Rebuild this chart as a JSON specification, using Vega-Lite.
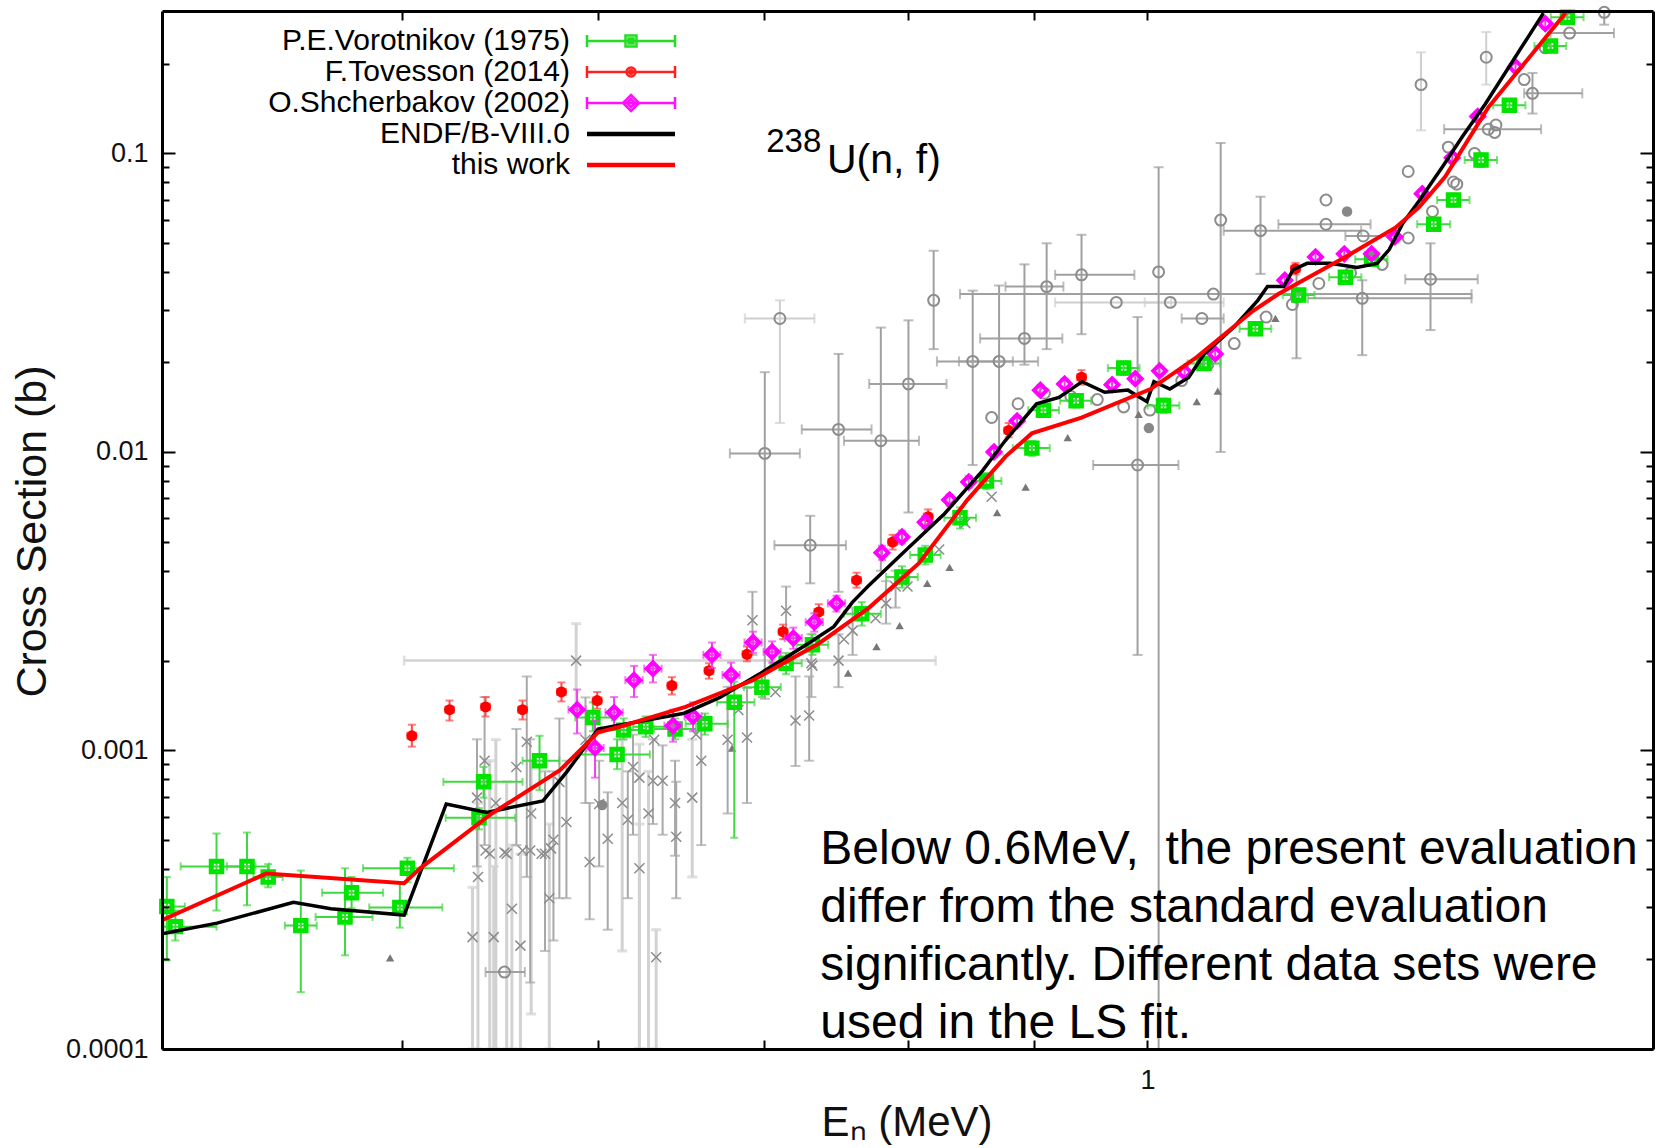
{
  "$schema": "https://vega.github.io/schema/vega-lite/v6.json",
  "width": 1491,
  "height": 1038,
  "autosize": {"type": "none"},
  "padding": {"left": 162, "top": 11, "right": 3, "bottom": 99},
  "background": "white",
  "config": {"view": {"stroke": null}, "font": "Liberation Sans", "axis": {"grid": false}},
  "resolve": {"axis": {"x": "independent", "y": "independent"}},
  "datasets": {
    "vorotnikov": [
      {"E": 0.4018, "s": 0.000300, "Elo": 0.4, "Ehi": 0.4086, "slo": 0.000198, "shi": 0.000377},
      {"E": 0.405, "s": 0.000257, "Elo": 0.4006, "Ehi": 0.4208, "slo": 0.000231, "shi": 0.000291},
      {"E": 0.4208, "s": 0.000409, "Elo": 0.407, "Ehi": 0.4363, "slo": 0.000291, "shi": 0.000527},
      {"E": 0.4329, "s": 0.000409, "Elo": 0.4249, "Ehi": 0.4419, "slo": 0.000303, "shi": 0.000531},
      {"E": 0.4415, "s": 0.000377, "Elo": 0.4355, "Ehi": 0.4475, "slo": 0.000348, "shi": 0.000416},
      {"E": 0.4551, "s": 0.000259, "Elo": 0.4484, "Ehi": 0.4619, "slo": 0.000155, "shi": 0.000396},
      {"E": 0.4742, "s": 0.000277, "Elo": 0.4614, "Ehi": 0.4865, "slo": 0.000206, "shi": 0.000403},
      {"E": 0.4771, "s": 0.000334, "Elo": 0.4642, "Ehi": 0.4913, "slo": 0.000296, "shi": 0.000377},
      {"E": 0.499, "s": 0.000298, "Elo": 0.485, "Ehi": 0.5191, "slo": 0.000255, "shi": 0.000359},
      {"E": 0.5025, "s": 0.000403, "Elo": 0.4822, "Ehi": 0.5247, "slo": 0.000362, "shi": 0.000437},
      {"E": 0.5394, "s": 0.000785, "Elo": 0.5196, "Ehi": 0.5593, "slo": 0.000695, "shi": 0.00088},
      {"E": 0.5371, "s": 0.000595, "Elo": 0.5207, "Ehi": 0.5555, "slo": 0.000544, "shi": 0.000641},
      {"E": 0.5682, "s": 0.000924, "Elo": 0.5593, "Ehi": 0.5788, "slo": 0.000736, "shi": 0.00112},
      {"E": 0.5971, "s": 0.00129, "Elo": 0.5873, "Ehi": 0.6078, "slo": 0.00116, "shi": 0.00145},
      {"E": 0.6107, "s": 0.00097, "Elo": 0.5896, "Ehi": 0.6296, "slo": 0.000866, "shi": 0.00109},
      {"E": 0.6144, "s": 0.00117, "Elo": 0.6018, "Ehi": 0.6272, "slo": 0.00109, "shi": 0.00128},
      {"E": 0.6272, "s": 0.0012, "Elo": 0.6198, "Ehi": 0.6445, "slo": 0.00111, "shi": 0.0013},
      {"E": 0.6445, "s": 0.00118, "Elo": 0.6321, "Ehi": 0.6572, "slo": 0.00109, "shi": 0.00128},
      {"E": 0.6626, "s": 0.00123, "Elo": 0.6509, "Ehi": 0.6768, "slo": 0.00113, "shi": 0.00133},
      {"E": 0.681, "s": 0.00145, "Elo": 0.6702, "Ehi": 0.6939, "slo": 0.00051, "shi": 0.0017},
      {"E": 0.6987, "s": 0.00163, "Elo": 0.6871, "Ehi": 0.7111, "slo": 0.00151, "shi": 0.00177},
      {"E": 0.7146, "s": 0.00196, "Elo": 0.7042, "Ehi": 0.7251, "slo": 0.0018, "shi": 0.00212},
      {"E": 0.7323, "s": 0.00226, "Elo": 0.7216, "Ehi": 0.7431, "slo": 0.00209, "shi": 0.00245},
      {"E": 0.7667, "s": 0.00287, "Elo": 0.7541, "Ehi": 0.7804, "slo": 0.00262, "shi": 0.00314},
      {"E": 0.7959, "s": 0.00381, "Elo": 0.7842, "Ehi": 0.8077, "slo": 0.00351, "shi": 0.00414},
      {"E": 0.8133, "s": 0.00452, "Elo": 0.802, "Ehi": 0.825, "slo": 0.0042, "shi": 0.00485},
      {"E": 0.84, "s": 0.00602, "Elo": 0.8279, "Ehi": 0.8526, "slo": 0.00554, "shi": 0.00652},
      {"E": 0.8609, "s": 0.008, "Elo": 0.849, "Ehi": 0.873, "slo": 0.0075, "shi": 0.0085},
      {"E": 0.8981, "s": 0.0103, "Elo": 0.8823, "Ehi": 0.9131, "slo": 0.0097, "shi": 0.0109},
      {"E": 0.9078, "s": 0.0138, "Elo": 0.895, "Ehi": 0.921, "slo": 0.0131, "shi": 0.0145},
      {"E": 0.9358, "s": 0.01485, "Elo": 0.922, "Ehi": 0.949, "slo": 0.0141, "shi": 0.0156},
      {"E": 0.9781, "s": 0.0191, "Elo": 0.9638, "Ehi": 0.9926, "slo": 0.0181, "shi": 0.0201},
      {"E": 1.015, "s": 0.0143, "Elo": 1.0001, "Ehi": 1.0301, "slo": 0.0135, "shi": 0.0151},
      {"E": 1.0539, "s": 0.0198, "Elo": 1.038, "Ehi": 1.07, "slo": 0.0188, "shi": 0.0208},
      {"E": 1.1055, "s": 0.02585, "Elo": 1.0894, "Ehi": 1.1219, "slo": 0.0246, "shi": 0.0272},
      {"E": 1.151, "s": 0.03355, "Elo": 1.134, "Ehi": 1.168, "slo": 0.0319, "shi": 0.0352},
      {"E": 1.202, "s": 0.0385, "Elo": 1.184, "Ehi": 1.22, "slo": 0.0366, "shi": 0.0404},
      {"E": 1.2316, "s": 0.0442, "Elo": 1.213, "Ehi": 1.25, "slo": 0.042, "shi": 0.0464},
      {"E": 1.3049, "s": 0.0579, "Elo": 1.285, "Ehi": 1.325, "slo": 0.055, "shi": 0.0608},
      {"E": 1.3291, "s": 0.0698, "Elo": 1.309, "Ehi": 1.349, "slo": 0.0663, "shi": 0.0733},
      {"E": 1.3636, "s": 0.095, "Elo": 1.343, "Ehi": 1.384, "slo": 0.09, "shi": 0.1},
      {"E": 1.4, "s": 0.145, "Elo": 1.379, "Ehi": 1.421, "slo": 0.138, "shi": 0.152},
      {"E": 1.4546, "s": 0.229, "Elo": 1.433, "Ehi": 1.476, "slo": 0.218, "shi": 0.24},
      {"E": 1.4776, "s": 0.286, "Elo": 1.455, "Ehi": 1.5, "slo": 0.272, "shi": 0.3}
    ],
    "tovesson": [
      {"E": 0.5046, "s": 0.00112, "Elo": 0.5025, "Ehi": 0.5066, "slo": 0.00103, "shi": 0.00122},
      {"E": 0.5226, "s": 0.00137, "Elo": 0.5205, "Ehi": 0.5247, "slo": 0.00126, "shi": 0.00147},
      {"E": 0.5404, "s": 0.0014, "Elo": 0.5382, "Ehi": 0.5426, "slo": 0.0013, "shi": 0.00151},
      {"E": 0.5593, "s": 0.00137, "Elo": 0.557, "Ehi": 0.5616, "slo": 0.00127, "shi": 0.00147},
      {"E": 0.5799, "s": 0.00157, "Elo": 0.5775, "Ehi": 0.5823, "slo": 0.00146, "shi": 0.00169},
      {"E": 0.5995, "s": 0.00147, "Elo": 0.597, "Ehi": 0.602, "slo": 0.00138, "shi": 0.00157},
      {"E": 0.6426, "s": 0.00165, "Elo": 0.64, "Ehi": 0.6452, "slo": 0.00154, "shi": 0.00176},
      {"E": 0.6652, "s": 0.00185, "Elo": 0.6625, "Ehi": 0.6679, "slo": 0.00174, "shi": 0.00196},
      {"E": 0.6891, "s": 0.0021, "Elo": 0.6863, "Ehi": 0.6919, "slo": 0.00199, "shi": 0.00223},
      {"E": 0.7126, "s": 0.0025, "Elo": 0.7097, "Ehi": 0.7155, "slo": 0.00236, "shi": 0.00264},
      {"E": 0.7367, "s": 0.00291, "Elo": 0.7337, "Ehi": 0.7397, "slo": 0.00275, "shi": 0.00309},
      {"E": 0.763, "s": 0.00372, "Elo": 0.7599, "Ehi": 0.7661, "slo": 0.00351, "shi": 0.00394},
      {"E": 0.789, "s": 0.00499, "Elo": 0.7858, "Ehi": 0.7922, "slo": 0.00471, "shi": 0.00528},
      {"E": 0.8155, "s": 0.00607, "Elo": 0.8122, "Ehi": 0.8188, "slo": 0.00573, "shi": 0.00642},
      {"E": 0.8789, "s": 0.0118, "Elo": 0.8753, "Ehi": 0.8825, "slo": 0.0112, "shi": 0.0125},
      {"E": 0.9405, "s": 0.0178, "Elo": 0.9367, "Ehi": 0.9443, "slo": 0.0168, "shi": 0.0188},
      {"E": 1.1475, "s": 0.0411, "Elo": 1.1428, "Ehi": 1.1522, "slo": 0.0393, "shi": 0.043}
    ],
    "shcherbakov": [
      {"E": 0.5884, "s": 0.00137, "Elo": 0.5837, "Ehi": 0.5931, "slo": 0.00114, "shi": 0.0016},
      {"E": 0.5983, "s": 0.00102, "Elo": 0.5935, "Ehi": 0.6031, "slo": 0.000811, "shi": 0.00126},
      {"E": 0.609, "s": 0.00134, "Elo": 0.6041, "Ehi": 0.6139, "slo": 0.0012, "shi": 0.00151},
      {"E": 0.6204, "s": 0.00172, "Elo": 0.6154, "Ehi": 0.6254, "slo": 0.00151, "shi": 0.00192},
      {"E": 0.6314, "s": 0.00188, "Elo": 0.6263, "Ehi": 0.6365, "slo": 0.00169, "shi": 0.00209},
      {"E": 0.6433, "s": 0.00121, "Elo": 0.6382, "Ehi": 0.6484, "slo": 0.00107, "shi": 0.00137},
      {"E": 0.6554, "s": 0.0013, "Elo": 0.6502, "Ehi": 0.6606, "slo": 0.00116, "shi": 0.00145},
      {"E": 0.667, "s": 0.00209, "Elo": 0.6617, "Ehi": 0.6723, "slo": 0.00189, "shi": 0.0023},
      {"E": 0.679, "s": 0.00179, "Elo": 0.6736, "Ehi": 0.6844, "slo": 0.00162, "shi": 0.00197},
      {"E": 0.693, "s": 0.0023, "Elo": 0.6875, "Ehi": 0.6985, "slo": 0.00212, "shi": 0.0025},
      {"E": 0.7054, "s": 0.00214, "Elo": 0.6998, "Ehi": 0.711, "slo": 0.00197, "shi": 0.00232},
      {"E": 0.7194, "s": 0.00238, "Elo": 0.7137, "Ehi": 0.7251, "slo": 0.00219, "shi": 0.00258},
      {"E": 0.7336, "s": 0.00269, "Elo": 0.7277, "Ehi": 0.7395, "slo": 0.0025, "shi": 0.00288},
      {"E": 0.7489, "s": 0.00311, "Elo": 0.7429, "Ehi": 0.7549, "slo": 0.00292, "shi": 0.0033},
      {"E": 0.7812, "s": 0.0046, "slo": 0.00435, "shi": 0.00485},
      {"E": 0.7959, "s": 0.00519, "slo": 0.00493, "shi": 0.00545},
      {"E": 0.8133, "s": 0.00582, "slo": 0.00555, "shi": 0.0061},
      {"E": 0.8319, "s": 0.00691, "slo": 0.0066, "shi": 0.0072},
      {"E": 0.8469, "s": 0.00793, "slo": 0.0076, "shi": 0.0083},
      {"E": 0.867, "s": 0.01, "slo": 0.0096, "shi": 0.0104},
      {"E": 0.8858, "s": 0.0127, "slo": 0.0122, "shi": 0.0132},
      {"E": 0.9052, "s": 0.0161, "slo": 0.0155, "shi": 0.0167},
      {"E": 0.9258, "s": 0.0169, "slo": 0.0163, "shi": 0.0176},
      {"E": 0.9676, "s": 0.0168, "slo": 0.0162, "shi": 0.0174},
      {"E": 0.9887, "s": 0.0176, "slo": 0.017, "shi": 0.0183},
      {"E": 1.0113, "s": 0.0187, "slo": 0.018, "shi": 0.0194},
      {"E": 1.0351, "s": 0.0185, "slo": 0.0178, "shi": 0.0192},
      {"E": 1.065, "s": 0.0213, "slo": 0.0205, "shi": 0.0221},
      {"E": 1.1362, "s": 0.0376, "slo": 0.0362, "shi": 0.039},
      {"E": 1.1691, "s": 0.045, "slo": 0.0433, "shi": 0.0467},
      {"E": 1.2008, "s": 0.0461, "slo": 0.0444, "shi": 0.0478},
      {"E": 1.2316, "s": 0.0461, "slo": 0.0444, "shi": 0.0478},
      {"E": 1.2586, "s": 0.0525, "slo": 0.0505, "shi": 0.0545},
      {"E": 1.2911, "s": 0.0733, "slo": 0.0705, "shi": 0.076},
      {"E": 1.3276, "s": 0.0967, "slo": 0.093, "shi": 0.1004},
      {"E": 1.3594, "s": 0.133, "slo": 0.128, "shi": 0.138},
      {"E": 1.4081, "s": 0.195, "slo": 0.188, "shi": 0.202},
      {"E": 1.4475, "s": 0.272, "slo": 0.262, "shi": 0.282}
    ],
    "endf": [
      {"E": 0.4, "s": 0.000243}, {"E": 0.421, "s": 0.000264}, {"E": 0.452, "s": 0.00031},
      {"E": 0.468, "s": 0.000295}, {"E": 0.501, "s": 0.000281}, {"E": 0.521, "s": 0.000662},
      {"E": 0.541, "s": 0.00062}, {"E": 0.57, "s": 0.000678}, {"E": 0.583, "s": 0.000851},
      {"E": 0.6, "s": 0.00118}, {"E": 0.65, "s": 0.001333}, {"E": 0.672, "s": 0.001506},
      {"E": 0.697, "s": 0.001802}, {"E": 0.726, "s": 0.002227}, {"E": 0.747, "s": 0.0026},
      {"E": 0.76, "s": 0.003135}, {"E": 0.771, "s": 0.003542}, {"E": 0.796, "s": 0.00456},
      {"E": 0.828, "s": 0.00621}, {"E": 0.858, "s": 0.00868}, {"E": 0.876, "s": 0.0109},
      {"E": 0.902, "s": 0.0145}, {"E": 0.921, "s": 0.01523}, {"E": 0.941, "s": 0.0172},
      {"E": 0.961, "s": 0.01585}, {"E": 0.982, "s": 0.01611}, {"E": 0.9995, "s": 0.01474},
      {"E": 1.006, "s": 0.0172}, {"E": 1.021, "s": 0.01624}, {"E": 1.039, "s": 0.01777},
      {"E": 1.054, "s": 0.02127}, {"E": 1.084, "s": 0.02627}, {"E": 1.108, "s": 0.03221},
      {"E": 1.118, "s": 0.03581}, {"E": 1.135, "s": 0.03581}, {"E": 1.145, "s": 0.04077},
      {"E": 1.16, "s": 0.04283}, {"E": 1.185, "s": 0.04283}, {"E": 1.215, "s": 0.04146},
      {"E": 1.238, "s": 0.04283}, {"E": 1.252, "s": 0.04762}, {"E": 1.268, "s": 0.05836},
      {"E": 1.288, "s": 0.06982}, {"E": 1.316, "s": 0.0906}, {"E": 1.34, "s": 0.1138},
      {"E": 1.369, "s": 0.1465}, {"E": 1.445, "s": 0.295}
    ],
    "this_work": [
      {"E": 0.4, "s": 0.00027}, {"E": 0.4407, "s": 0.000387}, {"E": 0.501, "s": 0.000359},
      {"E": 0.5085, "s": 0.000403}, {"E": 0.5436, "s": 0.000615}, {"E": 0.5791, "s": 0.000859},
      {"E": 0.6, "s": 0.001151}, {"E": 0.6118, "s": 0.001199}, {"E": 0.6508, "s": 0.0014},
      {"E": 0.6926, "s": 0.001716}, {"E": 0.7367, "s": 0.002283}, {"E": 0.772, "s": 0.003011},
      {"E": 0.8086, "s": 0.004239}, {"E": 0.8458, "s": 0.00691}, {"E": 0.8763, "s": 0.00965},
      {"E": 0.898, "s": 0.01154}, {"E": 0.9405, "s": 0.01304}, {"E": 1.0029, "s": 0.01624},
      {"E": 1.0466, "s": 0.02075}, {"E": 1.1032, "s": 0.0297}, {"E": 1.1294, "s": 0.03382},
      {"E": 1.202, "s": 0.04498}, {"E": 1.2596, "s": 0.05649}, {"E": 1.2871, "s": 0.06596},
      {"E": 1.3188, "s": 0.0835}, {"E": 1.373, "s": 0.1429}, {"E": 1.4751, "s": 0.2952}
    ],
    "grey_circles": [
      {"E": 0.7006, "s": 0.00989, "Elo": 0.6782, "Ehi": 0.7238, "slo": 0.00149, "shi": 0.0185},
      {"E": 0.7503, "s": 0.0119, "Elo": 0.7251, "Ehi": 0.7737, "slo": 0.0034, "shi": 0.0213},
      {"E": 0.7804, "s": 0.0109, "Elo": 0.7541, "Ehi": 0.8086, "slo": 0.004, "shi": 0.0261},
      {"E": 0.8007, "s": 0.0169, "Elo": 0.772, "Ehi": 0.8296, "slo": 0.00627, "shi": 0.0276},
      {"E": 0.7308, "s": 0.00487, "Elo": 0.7069, "Ehi": 0.7555, "slo": 0.00363, "shi": 0.00611},
      {"E": 0.85, "s": 0.0201, "Elo": 0.8222, "Ehi": 0.8823, "slo": 0.00904, "shi": 0.0347},
      {"E": 0.8711, "s": 0.0201, "Elo": 0.8392, "Ehi": 0.9033, "slo": 0.00981, "shi": 0.0361},
      {"E": 0.8919, "s": 0.024, "Elo": 0.8559, "Ehi": 0.9239, "slo": 0.0196, "shi": 0.0425},
      {"E": 0.9105, "s": 0.0358, "Elo": 0.8763, "Ehi": 0.9248, "slo": 0.0221, "shi": 0.05},
      {"E": 0.9405, "s": 0.0392, "Elo": 0.9177, "Ehi": 0.9879, "slo": 0.0248, "shi": 0.0534},
      {"E": 0.9908, "s": 0.00904, "Elo": 0.9507, "Ehi": 1.0292, "slo": 0.00209, "shi": 0.0283},
      {"E": 1.0104, "s": 0.0401, "slo": 0.0001, "shi": 0.0899},
      {"E": 1.0704, "s": 0.0598, "slo": 0.01, "shi": 0.1084},
      {"E": 1.1108, "s": 0.0551, "Elo": 1.0734, "Ehi": 1.2198, "slo": 0.0395, "shi": 0.0716},
      {"E": 1.0519, "s": 0.028, "Elo": 1.0323, "Ehi": 1.0734},
      {"E": 1.1805, "s": 0.0698},
      {"E": 1.1805, "s": 0.0579, "Elo": 1.1294, "Ehi": 1.2305},
      {"E": 1.2221, "s": 0.0529, "Elo": 1.202, "Ehi": 1.2619},
      {"E": 1.4304, "s": 0.159, "Elo": 1.4194, "Ehi": 1.4982, "slo": 0.136, "shi": 0.186},
      {"E": 1.4806, "s": 0.253, "Elo": 1.4546, "Ehi": 1.543},
      {"E": 1.5291, "s": 0.297, "slo": 0.27, "shi": 0.3},
      {"E": 1.301, "s": 0.0379, "Elo": 1.2708, "Ehi": 1.3594, "slo": 0.0256, "shi": 0.05},
      {"E": 1.2743, "s": 0.087},
      {"E": 1.3227, "s": 0.105},
      {"E": 1.3728, "s": 0.1205, "Elo": 1.3176, "Ehi": 1.4419},
      {"E": 1.3332, "s": 0.0789},
      {"E": 1.381, "s": 0.1176},
      {"E": 1.0632, "s": 0.0338, "Elo": 0.84, "Ehi": 1.3516},
      {"E": 1.1486, "s": 0.033, "slo": 0.0206, "shi": 0.0408},
      {"E": 1.221, "s": 0.0327, "Elo": 1.161, "Ehi": 1.3516, "slo": 0.0211, "shi": 0.0376},
      {"E": 0.8197, "s": 0.0322, "slo": 0.0221, "shi": 0.0472},
      {"E": 0.55, "s": 0.000181, "Elo": 0.5404, "Ehi": 0.5605},
      {"E": 0.8651, "s": 0.01304}, {"E": 0.8866, "s": 0.0145}, {"E": 0.9086, "s": 0.01573},
      {"E": 0.9312, "s": 0.01535}, {"E": 0.9544, "s": 0.01498}, {"E": 0.9781, "s": 0.01415},
      {"E": 1.0022, "s": 0.01381}, {"E": 1.0323, "s": 0.01734}, {"E": 1.0576, "s": 0.0196},
      {"E": 1.084, "s": 0.02307}, {"E": 1.1166, "s": 0.0283}, {"E": 1.1442, "s": 0.03118},
      {"E": 1.1727, "s": 0.03668}, {"E": 1.2078, "s": 0.0398}, {"E": 1.2438, "s": 0.04248},
      {"E": 1.2743, "s": 0.0521}, {"E": 1.3034, "s": 0.0639}, {"E": 1.3291, "s": 0.0802},
      {"E": 1.3554, "s": 0.1}, {"E": 1.3826, "s": 0.1245}, {"E": 1.4194, "s": 0.1768},
      {"E": 1.4475, "s": 0.2257}
    ],
    "grey_circles_b": [
      {"E": 0.9714, "s": 0.0317, "Elo": 0.9177, "Ehi": 1.0223},
      {"E": 1.0214, "s": 0.0317, "Elo": 0.9974, "Ehi": 1.0734},
      {"E": 0.7105, "s": 0.028, "Elo": 0.6877, "Ehi": 0.7337, "slo": 0.0125, "shi": 0.0322},
      {"E": 1.2896, "s": 0.17, "slo": 0.1195, "shi": 0.218},
      {"E": 1.3702, "s": 0.21, "slo": 0.17, "shi": 0.255}
    ],
    "grey_crosses": [
      {"E": 0.5399, "s": 0.000924, "slo": 0.000482, "shi": 0.00151},
      {"E": 0.5615, "s": 0.00107, "slo": 0.000377, "shi": 0.00177},
      {"E": 0.5561, "s": 0.00088, "slo": 0.000482, "shi": 0.00118},
      {"E": 0.6198, "s": 0.00088, "slo": 0.000522, "shi": 0.00113},
      {"E": 0.6371, "s": 0.000792, "slo": 0.000522, "shi": 0.00104},
      {"E": 0.6891, "s": 0.001105, "slo": 0.000667, "shi": 0.00162},
      {"E": 0.7209, "s": 0.00126, "slo": 0.000887, "shi": 0.00177},
      {"E": 0.7316, "s": 0.00196, "slo": 0.00151, "shi": 0.00245},
      {"E": 0.6926, "s": 0.00273, "slo": 0.00209, "shi": 0.0034},
      {"E": 0.7146, "s": 0.00294, "slo": 0.00236, "shi": 0.00354},
      {"E": 0.5953, "s": 0.000423, "slo": 0.000272, "shi": 0.000667},
      {"E": 0.6452, "s": 0.000514, "slo": 0.00032, "shi": 0.000785},
      {"E": 0.6054, "s": 0.000506, "slo": 0.000251, "shi": 0.000724},
      {"E": 0.5633, "s": 0.000462, "slo": 0.000167, "shi": 0.00109},
      {"E": 0.5711, "s": 0.000451, "slo": 0.000213, "shi": 0.000851},
      {"E": 0.5756, "s": 0.000502, "slo": 0.000231, "shi": 0.000851},
      {"E": 0.5826, "s": 0.000576, "slo": 0.00032, "shi": 0.000924},
      {"E": 0.6006, "s": 0.000662, "slo": 0.000409, "shi": 0.000924},
      {"E": 0.6168, "s": 0.000586, "slo": 0.00032, "shi": 0.000851},
      {"E": 0.6314, "s": 0.000792, "slo": 0.000567, "shi": 0.00109},
      {"E": 0.7301, "s": 0.00131, "slo": 0.000924, "shi": 0.00177},
      {"E": 0.7503, "s": 0.002, "slo": 0.00163, "shi": 0.00245},
      {"E": 0.7602, "s": 0.00252, "slo": 0.00209, "shi": 0.00301},
      {"E": 0.7842, "s": 0.00311, "slo": 0.00266, "shi": 0.00369},
      {"E": 0.7912, "s": 0.00354, "slo": 0.00301, "shi": 0.004},
      {"E": 0.5361, "s": 0.000695, "slo": 0.000409, "shi": 0.00109},
      {"E": 0.5788, "s": 0.000785, "slo": 0.00032, "shi": 0.00128},
      {"E": 0.593, "s": 0.001087, "slo": 0.000667, "shi": 0.001506},
      {"E": 0.6604, "s": 0.000924, "slo": 0.000482, "shi": 0.00128},
      {"E": 0.6768, "s": 0.001087, "slo": 0.000615, "shi": 0.001634},
      {"E": 0.6445, "s": 0.000667, "slo": 0.000444, "shi": 0.000924},
      {"E": 0.5404, "s": 0.000462}, {"E": 0.55, "s": 0.000455}, {"E": 0.5593, "s": 0.000462},
      {"E": 0.5693, "s": 0.000451}, {"E": 0.5743, "s": 0.00047},
      {"E": 0.6321, "s": 0.001087}, {"E": 0.6572, "s": 0.001132}, {"E": 0.6836, "s": 0.001366},
      {"E": 0.7076, "s": 0.001569}, {"E": 0.7323, "s": 0.001924}, {"E": 0.7541, "s": 0.002358},
      {"E": 0.7766, "s": 0.002774}, {"E": 0.8, "s": 0.003542}, {"E": 0.8239, "s": 0.00471},
      {"E": 0.8442, "s": 0.005776}, {"E": 0.8651, "s": 0.007079}
    ],
    "grey_crosses_b": [
      {"E": 0.5879, "s": 0.002, "Elo": 0.501, "Ehi": 0.8212, "slo": 0.00139, "shi": 0.00266},
      {"E": 0.6235, "s": 0.000811, "slo": 0.0001, "shi": 0.00105},
      {"E": 0.6549, "s": 0.000695, "slo": 0.000377, "shi": 0.00109},
      {"E": 0.6235, "s": 0.000403, "slo": 0.0001, "shi": 0.000567},
      {"E": 0.5425, "s": 0.000451, "slo": 0.0001, "shi": 0.000924},
      {"E": 0.5511, "s": 0.000451, "slo": 0.0001, "shi": 0.000785},
      {"E": 0.5366, "s": 0.000377, "slo": 0.0001, "shi": 0.000667},
      {"E": 0.5339, "s": 0.000237, "slo": 0.0001, "shi": 0.000348},
      {"E": 0.5445, "s": 0.000237, "slo": 0.0001, "shi": 0.000409},
      {"E": 0.5582, "s": 0.000222, "slo": 0.0001, "shi": 0.00045},
      {"E": 0.6333, "s": 0.000203, "slo": 0.0001, "shi": 0.000251},
      {"E": 0.5456, "s": 0.000667, "slo": 0.0001, "shi": 0.001087},
      {"E": 0.5638, "s": 0.000615, "slo": 0.000131, "shi": 0.000924},
      {"E": 0.6136, "s": 0.000667, "slo": 0.000213, "shi": 0.001087},
      {"E": 0.6288, "s": 0.000615, "slo": 0.0001, "shi": 0.000851},
      {"E": 0.5734, "s": 0.00032, "slo": 0.0001, "shi": 0.000567},
      {"E": 0.5538, "s": 0.000295, "slo": 0.0001, "shi": 0.000482}
    ],
    "grey_triangles": [
      {"E": 0.4945, "s": 0.000202}, {"E": 0.6796, "s": 0.001019}, {"E": 0.757, "s": 0.001817},
      {"E": 0.7773, "s": 0.002227}, {"E": 0.7942, "s": 0.002621}, {"E": 0.8148, "s": 0.003631},
      {"E": 0.8319, "s": 0.004102}, {"E": 0.8695, "s": 0.006266}, {"E": 0.8929, "s": 0.007618},
      {"E": 0.9285, "s": 0.01117}, {"E": 0.9918, "s": 0.01336}, {"E": 1.0469, "s": 0.01474},
      {"E": 1.0675, "s": 0.01599}, {"E": 1.1263, "s": 0.02804}
    ],
    "grey_dots": [
      {"E": 1.0013, "s": 0.01202}, {"E": 1.2039, "s": 0.0639}, {"E": 0.6023, "s": 0.000657}
    ],
    "notes": [
      {"part": "iso", "E": 0.7015, "s": 0.1008, "label": "238"},
      {"part": "reaction", "E": 0.7423, "s": 0.0857, "label": "U(n, f)"},
      {"part": "remark", "E": 0.7377, "s": 0.000416, "label": "Below 0.6MeV,\u00a0 the present evaluation\ndiffer from the standard evaluation\nsignificantly. Different data sets were\nused in the LS fit."}
    ],
    "series_keys": [
      {"series": "P.E.Vorotnikov (1975)"},
      {"series": "F.Tovesson (2014)"},
      {"series": "O.Shcherbakov (2002)"},
      {"series": "ENDF/B-VIII.0"},
      {"series": "this work"}
    ]
  },
  "layer": [
    {
      "data": {"name": "grey_circles_b"},
      "transform": [{"filter": "isValid(datum.Elo)"}],
      "mark": {"type": "errorbar", "ticks": true, "color": "#cfcfcf", "thickness": 2, "size": 10},
      "encoding": {
        "x": {"field": "Elo", "type": "quantitative", "scale": {"type": "log", "domain": [0.4, 1.6], "nice": false}, "axis": null},
        "x2": {"field": "Ehi"},
        "y": {"field": "s", "type": "quantitative", "scale": {"type": "log", "domain": [0.0001, 0.3], "nice": false}, "axis": null}
      }
    },
    {
      "data": {"name": "grey_circles_b"},
      "transform": [{"filter": "isValid(datum.slo)"}],
      "mark": {"type": "errorbar", "ticks": true, "color": "#cfcfcf", "thickness": 2, "size": 10},
      "encoding": {
        "x": {"field": "E", "type": "quantitative", "scale": {"type": "log", "domain": [0.4, 1.6], "nice": false}, "axis": null},
        "y": {"field": "slo", "type": "quantitative", "scale": {"type": "log", "domain": [0.0001, 0.3], "nice": false}, "axis": null},
        "y2": {"field": "shi"}
      }
    },
    {
      "data": {"name": "grey_crosses_b"},
      "transform": [{"filter": "isValid(datum.Elo)"}],
      "mark": {"type": "errorbar", "ticks": true, "color": "#d2d2d2", "thickness": 2.5, "size": 10},
      "encoding": {
        "x": {"field": "Elo", "type": "quantitative", "scale": {"type": "log", "domain": [0.4, 1.6], "nice": false}, "axis": null},
        "x2": {"field": "Ehi"},
        "y": {"field": "s", "type": "quantitative", "scale": {"type": "log", "domain": [0.0001, 0.3], "nice": false}, "axis": null}
      }
    },
    {
      "data": {"name": "grey_crosses_b"},
      "transform": [{"filter": "isValid(datum.slo)"}],
      "mark": {"type": "errorbar", "ticks": true, "color": "#d2d2d2", "thickness": 3, "size": 10},
      "encoding": {
        "x": {"field": "E", "type": "quantitative", "scale": {"type": "log", "domain": [0.4, 1.6], "nice": false}, "axis": null},
        "y": {"field": "slo", "type": "quantitative", "scale": {"type": "log", "domain": [0.0001, 0.3], "nice": false}, "axis": null},
        "y2": {"field": "shi"}
      }
    },
    {
      "data": {"name": "grey_circles"},
      "transform": [{"filter": "isValid(datum.Elo)"}],
      "mark": {"type": "errorbar", "ticks": true, "color": "#a0a0a0", "thickness": 2, "size": 10},
      "encoding": {
        "x": {"field": "Elo", "type": "quantitative", "scale": {"type": "log", "domain": [0.4, 1.6], "nice": false}, "axis": null},
        "x2": {"field": "Ehi"},
        "y": {"field": "s", "type": "quantitative", "scale": {"type": "log", "domain": [0.0001, 0.3], "nice": false}, "axis": null}
      }
    },
    {
      "data": {"name": "grey_circles"},
      "transform": [{"filter": "isValid(datum.slo)"}],
      "mark": {"type": "errorbar", "ticks": true, "color": "#a0a0a0", "thickness": 2, "size": 10},
      "encoding": {
        "x": {"field": "E", "type": "quantitative", "scale": {"type": "log", "domain": [0.4, 1.6], "nice": false}, "axis": null},
        "y": {"field": "slo", "type": "quantitative", "scale": {"type": "log", "domain": [0.0001, 0.3], "nice": false}, "axis": null},
        "y2": {"field": "shi"}
      }
    },
    {
      "data": {"name": "grey_crosses"},
      "transform": [{"filter": "isValid(datum.slo)"}],
      "mark": {"type": "errorbar", "ticks": true, "color": "#a8a8a8", "thickness": 2, "size": 10},
      "encoding": {
        "x": {"field": "E", "type": "quantitative", "scale": {"type": "log", "domain": [0.4, 1.6], "nice": false}, "axis": null},
        "y": {"field": "slo", "type": "quantitative", "scale": {"type": "log", "domain": [0.0001, 0.3], "nice": false}, "axis": null},
        "y2": {"field": "shi"}
      }
    },
    {
      "data": {"name": "grey_circles"},
      "mark": {"type": "point", "shape": "circle", "filled": false, "size": 120, "strokeWidth": 2, "color": "#8c8c8c", "opacity": 1},
      "encoding": {
        "x": {"field": "E", "type": "quantitative", "scale": {"type": "log", "domain": [0.4, 1.6], "nice": false},
          "axis": {"orient": "bottom", "values": [0.5, 0.6, 0.7, 0.8, 0.9, 1], "labelExpr": "datum.value > 0.95 ? '1' : ''",
            "tickSize": -9, "tickWidth": 2, "tickColor": "black", "domainColor": "black", "domainWidth": 3,
            "labelFont": "Liberation Sans", "labelFontSize": 27, "labelColor": "#111", "labelPadding": 27, "labelFlush": false, "labelOverlap": false,
            "title": "Eₙ (MeV)", "titleFont": "Liberation Sans", "titleFontSize": 42, "titleFontWeight": "normal", "titleColor": "#111",
            "titleX": 659, "titleY": 86, "titleAlign": "left", "titleBaseline": "alphabetic", "grid": false, "zindex": 1}},
        "y": {"field": "s", "type": "quantitative", "scale": {"type": "log", "domain": [0.0001, 0.3], "nice": false},
          "axis": {"orient": "left", "values": [0.0001, 0.001, 0.01, 0.1],
            "labelExpr": "datum.value < 0.0005 ? '0.0001' : datum.value < 0.005 ? '0.001' : datum.value < 0.05 ? '0.01' : '0.1'",
            "tickSize": -13, "tickWidth": 2, "tickColor": "black", "domainColor": "black", "domainWidth": 3,
            "labelFont": "Liberation Sans", "labelFontSize": 27, "labelColor": "#111", "labelPadding": 27, "labelFlush": false, "labelOverlap": false,
            "title": "Cross Section (b)", "titleFont": "Liberation Sans", "titleFontSize": 43, "titleFontWeight": "normal", "titleColor": "#111",
            "titleAngle": 270, "titleX": -130, "titleY": 520, "titleAlign": "center", "titleBaseline": "middle", "grid": false, "zindex": 1}}
      }
    },
    {
      "data": {"name": "grey_circles_b"},
      "mark": {"type": "point", "shape": "circle", "filled": false, "size": 120, "strokeWidth": 2, "color": "#8c8c8c", "opacity": 1},
      "encoding": {
        "x": {"field": "E", "type": "quantitative", "scale": {"type": "log", "domain": [0.4, 1.6], "nice": false},
          "axis": {"orient": "top", "values": [0.5, 0.6, 0.7, 0.8, 0.9, 1], "labels": false, "title": null,
            "tickSize": -9, "tickWidth": 2, "tickColor": "black", "domainColor": "black", "domainWidth": 3, "grid": false, "zindex": 1}},
        "y": {"field": "s", "type": "quantitative", "scale": {"type": "log", "domain": [0.0001, 0.3], "nice": false},
          "axis": {"orient": "right", "values": [0.0001, 0.001, 0.01, 0.1], "labels": false, "title": null,
            "tickSize": -13, "tickWidth": 2, "tickColor": "black", "domainColor": "black", "domainWidth": 3, "grid": false, "zindex": 1}}
      }
    },
    {
      "data": {"name": "grey_crosses"},
      "mark": {"type": "point", "shape": "M-1,-1L1,1M-1,1L1,-1", "filled": false, "size": 100, "strokeWidth": 1.5, "color": "#8c8c8c", "opacity": 1},
      "encoding": {
        "x": {"field": "E", "type": "quantitative", "scale": {"type": "log", "domain": [0.4, 1.6], "nice": false}, "axis": null},
        "y": {"field": "s", "type": "quantitative", "scale": {"type": "log", "domain": [0.0001, 0.3], "nice": false},
          "axis": {"orient": "left", "values": [0.0002, 0.0003, 0.0004, 0.0005, 0.0006, 0.0007, 0.0008, 0.0009, 0.002, 0.003, 0.004, 0.005, 0.006, 0.007, 0.008, 0.009, 0.02, 0.03, 0.04, 0.05, 0.06, 0.07, 0.08, 0.09, 0.2],
            "labels": false, "title": null, "domain": false, "tickSize": -7, "tickWidth": 2, "tickColor": "black", "grid": false, "zindex": 1}}
      }
    },
    {
      "data": {"name": "grey_crosses_b"},
      "mark": {"type": "point", "shape": "M-1,-1L1,1M-1,1L1,-1", "filled": false, "size": 100, "strokeWidth": 1.5, "color": "#8c8c8c", "opacity": 1},
      "encoding": {
        "x": {"field": "E", "type": "quantitative", "scale": {"type": "log", "domain": [0.4, 1.6], "nice": false}, "axis": null},
        "y": {"field": "s", "type": "quantitative", "scale": {"type": "log", "domain": [0.0001, 0.3], "nice": false},
          "axis": {"orient": "right", "values": [0.0002, 0.0003, 0.0004, 0.0005, 0.0006, 0.0007, 0.0008, 0.0009, 0.002, 0.003, 0.004, 0.005, 0.006, 0.007, 0.008, 0.009, 0.02, 0.03, 0.04, 0.05, 0.06, 0.07, 0.08, 0.09, 0.2],
            "labels": false, "title": null, "domain": false, "tickSize": -7, "tickWidth": 2, "tickColor": "black", "grid": false, "zindex": 1}}
      }
    },
    {
      "data": {"name": "grey_triangles"},
      "mark": {"type": "point", "shape": "triangle-up", "filled": true, "size": 70, "color": "#777777", "opacity": 1},
      "encoding": {
        "x": {"field": "E", "type": "quantitative", "scale": {"type": "log", "domain": [0.4, 1.6], "nice": false}, "axis": null},
        "y": {"field": "s", "type": "quantitative", "scale": {"type": "log", "domain": [0.0001, 0.3], "nice": false}, "axis": null}
      }
    },
    {
      "data": {"name": "grey_dots"},
      "mark": {"type": "point", "shape": "circle", "filled": true, "size": 110, "color": "#888888", "opacity": 1},
      "encoding": {
        "x": {"field": "E", "type": "quantitative", "scale": {"type": "log", "domain": [0.4, 1.6], "nice": false}, "axis": null},
        "y": {"field": "s", "type": "quantitative", "scale": {"type": "log", "domain": [0.0001, 0.3], "nice": false}, "axis": null}
      }
    },
    {
      "data": {"name": "vorotnikov"},
      "transform": [{"filter": "isValid(datum.Elo)"}],
      "mark": {"type": "errorbar", "ticks": true, "color": "#40d840", "thickness": 2, "size": 8},
      "encoding": {
        "x": {"field": "Elo", "type": "quantitative", "scale": {"type": "log", "domain": [0.4, 1.6], "nice": false}, "axis": null},
        "x2": {"field": "Ehi"},
        "y": {"field": "s", "type": "quantitative", "scale": {"type": "log", "domain": [0.0001, 0.3], "nice": false}, "axis": null}
      }
    },
    {
      "data": {"name": "vorotnikov"},
      "transform": [{"filter": "isValid(datum.slo)"}],
      "mark": {"type": "errorbar", "ticks": true, "color": "#40d840", "thickness": 2, "size": 8},
      "encoding": {
        "x": {"field": "E", "type": "quantitative", "scale": {"type": "log", "domain": [0.4, 1.6], "nice": false}, "axis": null},
        "y": {"field": "slo", "type": "quantitative", "scale": {"type": "log", "domain": [0.0001, 0.3], "nice": false}, "axis": null},
        "y2": {"field": "shi"}
      }
    },
    {
      "data": {"name": "vorotnikov"},
      "mark": {"type": "point", "shape": "square", "filled": false, "size": 110, "strokeWidth": 5, "color": "#00e400", "opacity": 1},
      "encoding": {
        "x": {"field": "E", "type": "quantitative", "scale": {"type": "log", "domain": [0.4, 1.6], "nice": false}, "axis": null},
        "y": {"field": "s", "type": "quantitative", "scale": {"type": "log", "domain": [0.0001, 0.3], "nice": false}, "axis": null}
      }
    },
    {
      "data": {"name": "tovesson"},
      "transform": [{"filter": "isValid(datum.Elo)"}],
      "mark": {"type": "errorbar", "ticks": true, "color": "#ff4a4a", "thickness": 2, "size": 8},
      "encoding": {
        "x": {"field": "Elo", "type": "quantitative", "scale": {"type": "log", "domain": [0.4, 1.6], "nice": false}, "axis": null},
        "x2": {"field": "Ehi"},
        "y": {"field": "s", "type": "quantitative", "scale": {"type": "log", "domain": [0.0001, 0.3], "nice": false}, "axis": null}
      }
    },
    {
      "data": {"name": "tovesson"},
      "transform": [{"filter": "isValid(datum.slo)"}],
      "mark": {"type": "errorbar", "ticks": true, "color": "#ff4a4a", "thickness": 2, "size": 8},
      "encoding": {
        "x": {"field": "E", "type": "quantitative", "scale": {"type": "log", "domain": [0.4, 1.6], "nice": false}, "axis": null},
        "y": {"field": "slo", "type": "quantitative", "scale": {"type": "log", "domain": [0.0001, 0.3], "nice": false}, "axis": null},
        "y2": {"field": "shi"}
      }
    },
    {
      "data": {"name": "tovesson"},
      "mark": {"type": "point", "shape": "circle", "filled": true, "size": 120, "color": "#ff0000", "opacity": 1},
      "encoding": {
        "x": {"field": "E", "type": "quantitative", "scale": {"type": "log", "domain": [0.4, 1.6], "nice": false}, "axis": null},
        "y": {"field": "s", "type": "quantitative", "scale": {"type": "log", "domain": [0.0001, 0.3], "nice": false}, "axis": null}
      }
    },
    {
      "data": {"name": "shcherbakov"},
      "transform": [{"filter": "isValid(datum.Elo)"}],
      "mark": {"type": "errorbar", "ticks": true, "color": "#ee40ee", "thickness": 2, "size": 8},
      "encoding": {
        "x": {"field": "Elo", "type": "quantitative", "scale": {"type": "log", "domain": [0.4, 1.6], "nice": false}, "axis": null},
        "x2": {"field": "Ehi"},
        "y": {"field": "s", "type": "quantitative", "scale": {"type": "log", "domain": [0.0001, 0.3], "nice": false}, "axis": null}
      }
    },
    {
      "data": {"name": "shcherbakov"},
      "transform": [{"filter": "isValid(datum.slo)"}],
      "mark": {"type": "errorbar", "ticks": true, "color": "#ee40ee", "thickness": 2, "size": 8},
      "encoding": {
        "x": {"field": "E", "type": "quantitative", "scale": {"type": "log", "domain": [0.4, 1.6], "nice": false}, "axis": null},
        "y": {"field": "slo", "type": "quantitative", "scale": {"type": "log", "domain": [0.0001, 0.3], "nice": false}, "axis": null},
        "y2": {"field": "shi"}
      }
    },
    {
      "data": {"name": "shcherbakov"},
      "mark": {"type": "point", "shape": "diamond", "filled": false, "size": 160, "strokeWidth": 4, "color": "#ff00ff", "opacity": 1},
      "encoding": {
        "x": {"field": "E", "type": "quantitative", "scale": {"type": "log", "domain": [0.4, 1.6], "nice": false}, "axis": null},
        "y": {"field": "s", "type": "quantitative", "scale": {"type": "log", "domain": [0.0001, 0.3], "nice": false}, "axis": null}
      }
    },
    {
      "data": {"name": "endf"},
      "mark": {"type": "line", "color": "black", "strokeWidth": 3.5, "clip": true},
      "encoding": {
        "x": {"field": "E", "type": "quantitative", "scale": {"type": "log", "domain": [0.4, 1.6], "nice": false}, "axis": null},
        "y": {"field": "s", "type": "quantitative", "scale": {"type": "log", "domain": [0.0001, 0.3], "nice": false}, "axis": null}
      }
    },
    {
      "data": {"name": "this_work"},
      "mark": {"type": "line", "color": "#ff0000", "strokeWidth": 4, "clip": true},
      "encoding": {
        "x": {"field": "E", "type": "quantitative", "scale": {"type": "log", "domain": [0.4, 1.6], "nice": false}, "axis": null},
        "y": {"field": "s", "type": "quantitative", "scale": {"type": "log", "domain": [0.0001, 0.3], "nice": false}, "axis": null}
      }
    },
    {
      "data": {"name": "notes"},
      "transform": [{"filter": "datum.part == 'iso'"}],
      "mark": {"type": "text", "align": "left", "baseline": "alphabetic", "font": "Liberation Sans", "fontSize": 33, "color": "black"},
      "encoding": {
        "x": {"field": "E", "type": "quantitative", "scale": {"type": "log", "domain": [0.4, 1.6], "nice": false}, "axis": null},
        "y": {"field": "s", "type": "quantitative", "scale": {"type": "log", "domain": [0.0001, 0.3], "nice": false}, "axis": null},
        "text": {"field": "label"}
      }
    },
    {
      "data": {"name": "notes"},
      "transform": [{"filter": "datum.part == 'reaction'"}],
      "mark": {"type": "text", "align": "left", "baseline": "alphabetic", "font": "Liberation Sans", "fontSize": 41, "color": "black"},
      "encoding": {
        "x": {"field": "E", "type": "quantitative", "scale": {"type": "log", "domain": [0.4, 1.6], "nice": false}, "axis": null},
        "y": {"field": "s", "type": "quantitative", "scale": {"type": "log", "domain": [0.0001, 0.3], "nice": false}, "axis": null},
        "text": {"field": "label"}
      }
    },
    {
      "data": {"name": "notes"},
      "transform": [{"filter": "datum.part == 'remark'"}],
      "mark": {"type": "text", "align": "left", "baseline": "alphabetic", "font": "Liberation Sans", "fontSize": 48, "lineBreak": "\n", "lineHeight": 58, "color": "black"},
      "encoding": {
        "x": {"field": "E", "type": "quantitative", "scale": {"type": "log", "domain": [0.4, 1.6], "nice": false}, "axis": null},
        "y": {"field": "s", "type": "quantitative", "scale": {"type": "log", "domain": [0.0001, 0.3], "nice": false}, "axis": null},
        "text": {"field": "label"}
      }
    },
    {
      "data": {"name": "series_keys"},
      "mark": {"type": "point", "filled": false, "opacity": 0},
      "encoding": {
        "color": {"field": "series", "type": "nominal",
          "scale": {"domain": ["P.E.Vorotnikov (1975)", "F.Tovesson (2014)", "O.Shcherbakov (2002)", "ENDF/B-VIII.0", "this work"],
            "range": ["#22dd22", "#ff2020", "#ff10ff", "#000000", "#ff0000"]},
          "legend": {"title": null, "orient": "none", "legendX": 454, "legendY": 15, "direction": "vertical", "padding": 0,
            "symbolSize": 400, "symbolStrokeWidth": 2.5, "symbolOpacity": 1,
            "labelFont": "Liberation Sans", "labelFontSize": 30, "labelColor": "black", "labelAlign": "right", "labelOffset": -76, "labelLimit": 600, "rowPadding": 1}},
        "shape": {"field": "series", "type": "nominal",
          "scale": {"domain": ["P.E.Vorotnikov (1975)", "F.Tovesson (2014)", "O.Shcherbakov (2002)", "ENDF/B-VIII.0", "this work"],
            "range": [
              "M-38,0M-4.4,0H4.4M-4.4,-0.6V0.6M4.4,-0.6V0.6M-0.55,-0.55H0.55V0.55H-0.55ZM-0.25,-0.25H0.25V0.25H-0.25Z",
              "M-38,0M-4.4,0H4.4M-4.4,-0.6V0.6M4.4,-0.6V0.6M-0.45,0A0.45,0.45,0,1,0,0.45,0A0.45,0.45,0,1,0,-0.45,0ZM-0.18,0A0.18,0.18,0,1,0,0.18,0A0.18,0.18,0,1,0,-0.18,0Z",
              "M-38,0M-4.4,0H4.4M-4.4,-0.6V0.6M4.4,-0.6V0.6M0,-0.8L0.8,0L0,0.8L-0.8,0ZM0,-0.4L0.4,0L0,0.4L-0.4,0Z",
              "M-38,0M-4.4,-0.1H4.4M-4.4,0.1H4.4",
              "M-38,0M-4.4,-0.1H4.4M-4.4,0.1H4.4"
            ]},
          "legend": {"title": null, "orient": "none", "legendX": 454, "legendY": 15, "direction": "vertical", "padding": 0,
            "symbolSize": 400, "symbolStrokeWidth": 2.5, "symbolOpacity": 1,
            "labelFont": "Liberation Sans", "labelFontSize": 30, "labelColor": "black", "labelAlign": "right", "labelOffset": -76, "labelLimit": 600, "rowPadding": 1}}
      }
    }
  ]
}
